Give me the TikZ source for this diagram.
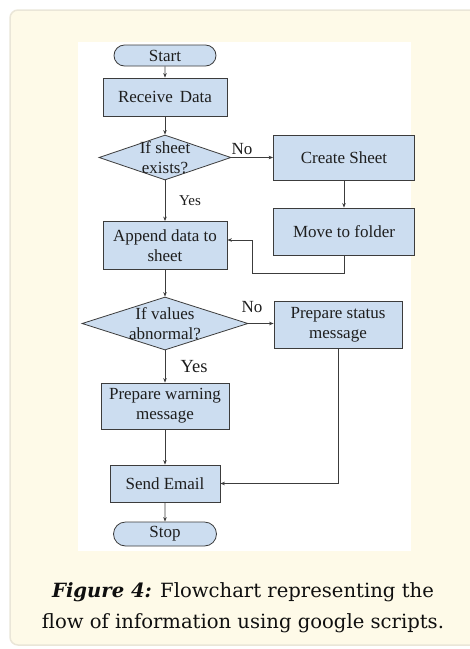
\documentclass[tikz,border=0pt]{standalone}
\usepackage{fontspec}
\setmainfont{Liberation Serif}
\newfontfamily\capfont{DejaVu Serif}
\usetikzlibrary{shapes.geometric,shapes.misc,arrows.meta}
\definecolor{boxfill}{RGB}{204,221,240}
\definecolor{edge}{RGB}{60,60,60}
\definecolor{ink}{RGB}{30,30,30}
\definecolor{capink}{RGB}{15,15,15}
\definecolor{cardfill}{RGB}{254,250,232}
\definecolor{cardline}{RGB}{234,230,216}
\begin{document}
\begin{tikzpicture}[x=1pt,y=-1pt,
    every node/.style={font=\fontsize{17}{20}\selectfont, text=ink},
    box/.style={draw=edge, fill=boxfill, line width=0.8pt, inner sep=0pt, align=center},
    terminal/.style={rounded rectangle, draw=edge, fill=boxfill, line width=0.8pt, inner sep=0pt},
    decision/.style={diamond, draw=edge, fill=boxfill, line width=0.8pt, inner sep=0pt},
    caption/.style={font=\capfont\fontsize{19.6}{22}\selectfont, text=capink, anchor=base},
    arr/.style={draw=edge, line width=0.8pt, -{Stealth[length=4.5pt,width=3.5pt]}}]
    \useasboundingbox (0,0) rectangle (470,649);
    \clip (0,0) rectangle (470,649);
    \draw[cardline, fill=cardfill, line width=1.5pt, rounded corners=8pt] (10,10) rectangle (500,645);
    \fill[white] (78,42) rectangle (411,551);

    \node[terminal, minimum width=102pt, minimum height=21pt] (start) at (165,55.5) {Start};
    \node[box, minimum width=124pt, minimum height=38pt] (recv) at (165,97) {Receive\, Data};
    \node[decision, minimum width=132pt, minimum height=45pt,
        label={[align=center]center:{If sheet\\exists?}}] (sheetq) at (165,157.5) {};
    \node[box, minimum width=141pt, minimum height=45pt] (create) at (344,157.5) {Create Sheet};
    \node[box, minimum width=141pt, minimum height=47pt] (move) at (344,231.5) {Move to folder};
    \node[box, minimum width=124pt, minimum height=48pt] (append) at (165,245.5) {Append data to\\sheet};
    \node[decision, minimum width=166pt, minimum height=53pt,
        label={[align=center]center:{If values\\abnormal?}}] (valq) at (165,323.5) {};
    \node[box, minimum width=128pt, minimum height=47pt] (status) at (338,325) {Prepare status\\message};
    \node[box, minimum width=128pt, minimum height=46pt] (warn) at (165,406) {Prepare warning\\message};
    \node[box, minimum width=110pt, minimum height=37pt] (send) at (165,483.5) {Send Email};
    \node[terminal, minimum width=103pt, minimum height=24pt] (stop) at (165,534) {Stop};

    \node (no1) at (242,149) {No};
    \node[font=\fontsize{15}{18}\selectfont] (yes1) at (190,201) {Yes};
    \node (no2) at (252,307) {No};
    \node[font=\fontsize{18.5}{20}\selectfont] (yes2) at (194,367) {Yes};
    \coordinate (back) at (252,240);

    \draw[arr] (start) -- (recv);
    \draw[arr] (recv) -- (sheetq);
    \draw[arr] (sheetq.east) -- (create.west);
    \draw[arr] (sheetq.south) -- (append.north);
    \draw[arr] (create) -- (move);
    \draw[arr] (move.south) -- ++(0,18) -| (back) -- (back -| append.east);
    \draw[arr] (append) -- (valq);
    \draw[arr] (valq.east) -- (valq.east -| status.west);
    \draw[arr] (valq.south) -- (warn.north);
    \draw[arr] (status.south) |- (send.east);
    \draw[arr] (warn) -- (send);
    \draw[arr] (send) -- (stop);

    \node[caption] (cap1) at (243,597) {\textbf{\textit{Figure 4:}} Flowchart representing the};
    \node[caption] (cap2) at (243,628) {flow of information using google scripts.};
\end{tikzpicture}
\end{document}
